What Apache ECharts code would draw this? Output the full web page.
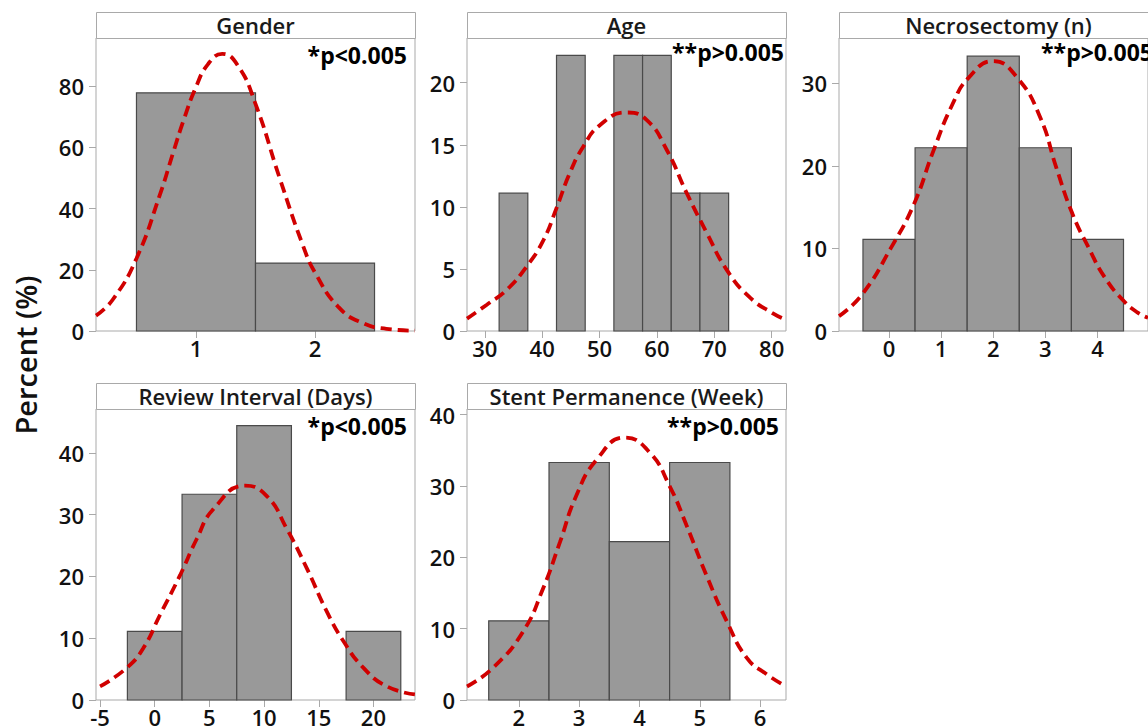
<!DOCTYPE html>
<html>
<head>
<meta charset="utf-8">
<script src="https://cdn.jsdelivr.net/npm/echarts@6/dist/echarts.min.js"></script>
<style>
html,body{margin:0;padding:0;background:#fff;}
#chart{width:1148px;height:728px;}
</style>
</head>
<body>
<div id="chart"></div>
<script>
// ---- Data ----
const panelTitles = ['Gender', 'Age', 'Necrosectomy (n)', 'Review Interval (Days)', 'Stent Permanence (Week)'];
const pValueLabels = ['*p<0.005', '**p>0.005', '**p>0.005', '*p<0.005', '**p>0.005'];
const yAxisTitle = 'Percent (%)';

// bins: centre, width; percentages
const genderBins = [1, 2];
const genderWidth = [1, 1];
const genderPct = [77.8, 22.2];

const ageBins = [35, 45, 55, 60, 65, 70];
const ageWidth = [5, 5, 5, 5, 5, 5];
const agePct = [11.1, 22.2, 22.2, 22.2, 11.1, 11.1];

const necroBins = [0, 1, 2, 3, 4];
const necroWidth = [1, 1, 1, 1, 1];
const necroPct = [11.1, 22.2, 33.3, 22.2, 11.1];

const reviewBins = [0, 5, 10, 15, 20];
const reviewWidth = [5, 5, 5, 5, 5];
const reviewPct = [11.1, 33.3, 44.4, 0, 11.1];

const stentBins = [2, 3, 4, 5];
const stentWidth = [1, 1, 1, 1];
const stentPct = [11.1, 33.3, 22.2, 33.3];

// fitted curves, points
const genderCurve = [[0.16,5.0],[0.3,10.2],[0.5,23.7],[0.7,44.9],[0.81,58.5],[0.9,69.3],[1.0,79.7],[1.1,87.1],[1.22,90.5],[1.35,86.8],[1.5,74.2],[1.7,50.3],[1.9,27.8],[2.0,19.1],[2.2,7.7],[2.4,2.6],[2.6,0.7],[2.84,0.1]];
const ageCurve = [[26.9,1.0],[30.3,2.1],[33.8,3.3],[37.3,5.2],[40.2,7.3],[42.5,9.9],[44.8,12.7],[47.1,14.8],[50.1,16.6],[54.7,17.6],[58.2,17.0],[61.7,14.6],[65.2,11.1],[68.7,7.9],[72.2,4.9],[76.2,2.7],[80.3,1.4],[82.5,0.9]];
const necroCurve = [[-0.96,1.8],[-0.52,4.4],[0.04,10.1],[0.48,15.4],[0.85,21.8],[1.22,27.5],[1.53,30.7],[2.0,32.7],[2.46,30.7],[2.9,25.9],[3.21,19.8],[3.52,14.2],[3.83,10.1],[4.14,6.5],[4.51,3.6],[4.78,2.2],[4.97,1.6]];
const reviewCurve = [[-5.0,2.2],[-2.56,5.2],[-1.04,8.4],[0.49,13.8],[2.32,20.2],[3.85,26.1],[5.37,30.9],[8.27,34.7],[10.25,33.0],[12.08,27.7],[13.91,21.3],[15.74,14.3],[17.26,9.5],[19.09,5.2],[21.23,2.2],[23.8,0.9]];
const stentCurve = [[1.14,1.9],[1.57,4.5],[2.07,9.6],[2.40,15.6],[2.68,22.1],[2.95,28.6],[3.29,33.7],[3.76,36.8],[4.17,34.7],[4.50,30.0],[4.78,24.5],[5.11,17.5],[5.45,11.0],[5.78,5.9],[6.11,3.6],[6.43,1.9]];

// axis ranges and tick labels
const xRanges = [[0.16, 2.84], [26.9, 82.5], [-0.96, 4.97], [-5.37, 23.8], [1.14, 6.43]];
const yMax = [95.7, 23.6, 35.5, 47.1, 40.8];
const xTicks = [[1, 2], [30, 40, 50, 60, 70, 80], [0, 1, 2, 3, 4], [-5, 0, 5, 10, 15, 20], [2, 3, 4, 5, 6]];
const yTicks = [[0, 20, 40, 60, 80], [0, 5, 10, 15, 20], [0, 10, 20, 30], [0, 10, 20, 30, 40], [0, 10, 20, 30, 40]];

const binSets = [
  [genderBins, genderWidth, genderPct],
  [ageBins, ageWidth, agePct],
  [necroBins, necroWidth, necroPct],
  [reviewBins, reviewWidth, reviewPct],
  [stentBins, stentWidth, stentPct]
];
const curves = [genderCurve, ageCurve, necroCurve, reviewCurve, stentCurve];

// ---- Layout ----
const panelPos = [[96, 38], [467, 38], [839, 38], [96, 409], [467, 409]];
const PW = 319, PH = 293, HH = 26;
const frameColor = '#a9a9a9';
const FONT = '"Open Sans", "Noto Sans", sans-serif';

const grids = [], xAxes = [], yAxes = [], series = [], graphics = [];
panelPos.forEach((p, i) => {
  grids.push({left: p[0], top: p[1], width: PW, height: PH, show: true, borderColor: frameColor, borderWidth: 1, backgroundColor: '#fff', containLabel: false});
  xAxes.push({
    type: 'value', gridIndex: i, min: xRanges[i][0], max: xRanges[i][1], position: 'bottom',
    axisLine: {show: false, onZero: false},
    axisTick: {show: true, length: 7, lineStyle: {color: frameColor}, customValues: xTicks[i]},
    axisLabel: {customValues: xTicks[i], margin: 6, fontSize: 22, fontWeight: 600, color: '#111', fontFamily: FONT},
    splitLine: {show: false}
  });
  yAxes.push({
    type: 'value', gridIndex: i, min: 0, max: yMax[i], position: 'left',
    axisLine: {show: false, onZero: false},
    axisTick: {show: true, length: 7, lineStyle: {color: frameColor}, customValues: yTicks[i]},
    axisLabel: {customValues: yTicks[i], margin: 12, fontSize: 22, fontWeight: 600, color: '#111', fontFamily: FONT},
    splitLine: {show: false}
  });
  const bs = binSets[i];
  series.push({
    type: 'custom', xAxisIndex: i, yAxisIndex: i,
    data: bs[0].map((c, k) => [c, bs[1][k], bs[2][k]]),
    encode: {x: 0, y: 2},
    renderItem: function (params, api) {
      const c = api.value(0), w = api.value(1), v = api.value(2);
      if (!v) return null;
      const a = api.coord([c - w / 2, v]);
      const b = api.coord([c + w / 2, 0]);
      return {type: 'rect', shape: {x: a[0], y: a[1], width: b[0] - a[0], height: b[1] - a[1]},
        style: {fill: '#999999', stroke: '#4a4a4a', lineWidth: 1.2}};
    },
    z: 2
  });
  series.push({
    type: 'line', xAxisIndex: i, yAxisIndex: i, data: curves[i], smooth: 0.5,
    showSymbol: false, symbol: 'none', silent: true,
    lineStyle: {color: '#d00000', width: 3.8, type: [11, 6]}, z: 3
  });
  // header box
  graphics.push({type: 'rect', left: p[0], top: p[1] - HH, shape: {width: PW, height: HH}, style: {fill: '#fff', stroke: frameColor, lineWidth: 1}, z: 10});
  graphics.push({type: 'text', x: p[0] + PW / 2, y: p[1] - HH / 2, style: {text: panelTitles[i], font: '600 22px ' + FONT, fill: '#1a1a1a', textAlign: 'center', textVerticalAlign: 'middle'}, z: 11});
});
// p-value labels
const pPos = [[407, 55], [784, 52], [1153, 52], [407, 426], [779, 426]];
pPos.forEach((q, i) => {
  graphics.push({type: 'text', x: q[0], y: q[1], style: {text: pValueLabels[i], font: 'bold 23px ' + FONT, fill: '#000', textAlign: 'right', textVerticalAlign: 'middle'}, z: 12});
});
// y axis title
graphics.push({type: 'text', x: 25, y: 355, rotation: Math.PI / 2, style: {text: yAxisTitle, font: '600 29px ' + FONT, fill: '#111', textAlign: 'center', textVerticalAlign: 'middle'}, z: 12});

const chart = echarts.init(document.getElementById('chart'), null, {renderer: 'svg'});
chart.setOption({
  animation: false,
  backgroundColor: '#fff',
  grid: grids, xAxis: xAxes, yAxis: yAxes, series: series,
  graphic: {elements: graphics}
});
</script>
</body>
</html>
